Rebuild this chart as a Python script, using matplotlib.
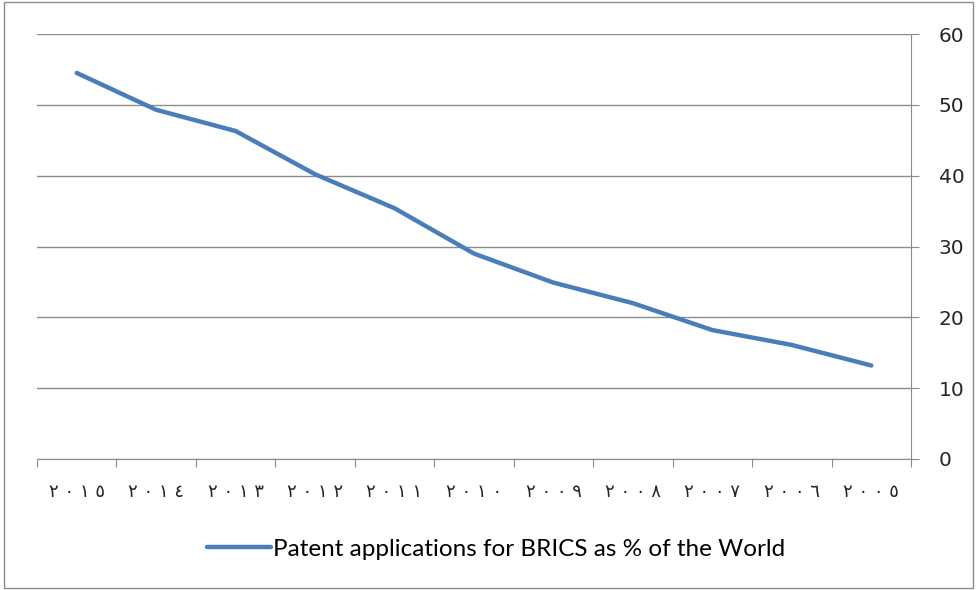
import matplotlib.pyplot as plt
from matplotlib.patches import Rectangle

# years shown right-to-left as Arabic-Indic digits
years = ["٢٠١٥", "٢٠١٤", "٢٠١٣", "٢٠١٢", "٢٠١١", "٢٠١٠",
         "٢٠٠٩", "٢٠٠٨", "٢٠٠٧", "٢٠٠٦", "٢٠٠٥"]
share = [54.5, 49.3, 46.3, 40.2, 35.4, 29.0, 24.9, 22.0, 18.2, 16.1, 13.2]
series_label = "Patent applications for BRICS as % of the World"

grey = "#8c8c8c"
blue = "#4A7EBB"

fig = plt.figure(figsize=(9.77, 5.9), dpi=100)
ax = fig.add_axes([37 / 977, 1 - 459 / 590, (911 - 37) / 977, (459 - 34) / 590])

x = list(range(len(years)))
ax.plot(x, share, color=blue, lw=3.2, solid_capstyle="round", label=series_label)

ax.set_xlim(-0.5, len(years) - 0.5)
ax.set_ylim(0, 60)
ax.set_yticks(range(0, 61, 10))
ax.yaxis.tick_right()
ax.tick_params(axis="y", which="both", direction="out", length=6, color=grey,
               pad=14, labelsize=14.5, labelcolor="#262626")
for lbl in ax.get_yticklabels():
    lbl.set_fontfamily("DejaVu Sans")

# boundary ticks as major, labels on minor ticks at category centres
ax.set_xticks([i - 0.5 for i in range(len(years) + 1)])
ax.set_xticklabels([])
ax.set_xticks(x, minor=True)
ax.set_xticklabels([" ".join(y) for y in years], minor=True,
                   fontfamily="DejaVu Sans", fontsize=13, color="#262626")
ax.tick_params(axis="x", which="major", direction="out", length=6, color=grey)
ax.tick_params(axis="x", which="minor", length=0, pad=17)

ax.grid(axis="y", color=grey, lw=1)
ax.set_axisbelow(True)
for side in ["left", "top"]:
    ax.spines[side].set_visible(False)
ax.spines["right"].set_color(grey)
ax.spines["bottom"].set_color(grey)

fig.legend(loc="center", bbox_to_anchor=(0.508, 1 - 549 / 590), frameon=False,
           handlelength=2.6, handletextpad=0.1, prop={"family": "Lato", "size": 17.5})

fig.patches.append(Rectangle((0.004, 0.004), 0.992, 0.992, transform=fig.transFigure,
                             fill=False, edgecolor=grey, lw=1))

fig.savefig("out.png", dpi=100)
